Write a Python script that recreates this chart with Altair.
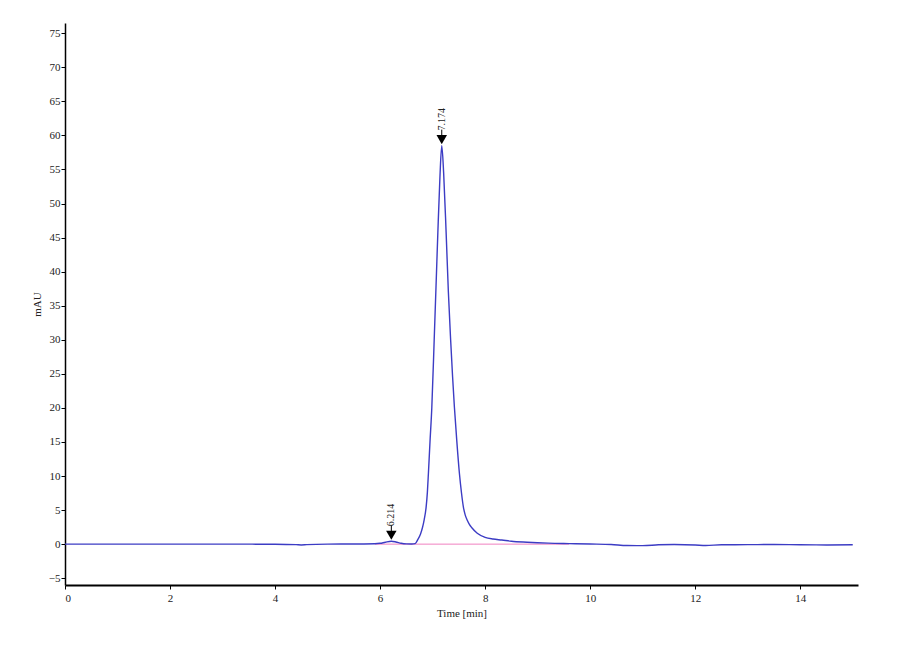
import altair as alt
import pandas as pd

# Chromatogram trace
time_min = [0, 1, 2, 3, 4, 4.4, 4.5, 4.6, 5, 5.5, 5.9, 6.0, 6.1, 6.214, 6.3, 6.4, 6.5, 6.6,
            6.667, 6.72, 6.77, 6.806, 6.84, 6.876, 6.90, 6.92, 6.95, 6.985, 7.03, 7.07, 7.10,
            7.14, 7.174, 7.21, 7.257, 7.30, 7.343, 7.38, 7.415, 7.46, 7.51, 7.55, 7.587, 7.62,
            7.66, 7.70, 7.747, 7.85, 8.0, 8.15, 8.318, 8.5, 8.8, 9.2, 9.6, 10.0, 10.4, 10.7,
            11.0, 11.3, 11.6, 12.0, 12.2, 12.5, 13, 13.5, 14, 14.5, 15.0]
mau = [0, 0, 0, 0, -0.02, -0.08, -0.12, -0.08, 0, 0.02, 0.05, 0.12, 0.28, 0.42, 0.32, 0.12,
       0.03, 0.02, 0.08, 0.7, 1.5, 2.4, 3.6, 5.4, 7.6, 10.4, 15.0, 20.1, 30, 39, 45.8, 54,
       58.5, 54.5, 45.8, 37, 30, 24.6, 20.1, 15.2, 10.4, 7.5, 5.4, 4.3, 3.5, 2.9, 2.4, 1.6,
       1.0, 0.75, 0.6, 0.42, 0.28, 0.15, 0.08, 0.02, -0.05, -0.2, -0.22, -0.1, -0.05, -0.12,
       -0.2, -0.1, -0.08, -0.05, -0.1, -0.12, -0.1]

# Peak annotations
peak_times = [6.214, 7.174]
peak_heights = [0.42, 58.5]
peak_labels = ["6.214", "7.174"]

# Integration baseline
baseline_t = [5.9, 9.6]
baseline_v = [0, 0]

x_ticks = [0, 2, 4, 6, 8, 10, 12, 14]
y_ticks = [-5, 0, 5, 10, 15, 20, 25, 30, 35, 40, 45, 50, 55, 60, 65, 70, 75]

trace = pd.DataFrame({"t": time_min, "v": mau})
peaks = pd.DataFrame({"t": peak_times, "v": peak_heights, "label": peak_labels})
base = pd.DataFrame({"t": baseline_t, "v": baseline_v})

FONT = "Liberation Serif"

xs = alt.Scale(domain=[0, 15.1], nice=False, zero=False)
ys = alt.Scale(domain=[-6, 76.5], nice=False, zero=False)

x_axis = alt.Axis(values=x_ticks, title="Time [min]", grid=False, domainColor="black",
                  domainWidth=2, tickColor="black", tickSize=4, labelFont=FONT,
                  labelFontSize=11, labelColor="#222", titleFont=FONT, titleFontSize=11,
                  titleFontWeight="normal", titleColor="#222", titlePadding=4, labelPadding=3,
                  labelOverlap=False)
y_axis = alt.Axis(values=y_ticks, title="mAU", grid=False, domainColor="black",
                  domainWidth=1.5, tickColor="black", tickSize=4, labelFont=FONT,
                  labelFontSize=11, labelColor="#222", titleFont=FONT, titleFontSize=11,
                  titleFontWeight="normal", titleColor="#222", titlePadding=6, labelPadding=1,
                  labelOverlap=False)

baseline_layer = alt.Chart(base).mark_line(color="#f080c0", strokeWidth=1).encode(
    x=alt.X("t:Q", scale=xs, axis=x_axis), y=alt.Y("v:Q", scale=ys, axis=y_axis))

line = alt.Chart(trace).mark_line(color="#3c3cc4", strokeWidth=1.4, interpolate="monotone").encode(
    x=alt.X("t:Q", scale=xs, axis=x_axis), y=alt.Y("v:Q", scale=ys, axis=y_axis))

stem = alt.Chart(peaks).mark_rule(color="black", strokeWidth=1, yOffset=-10, y2Offset=-16).encode(
    x=alt.X("t:Q", scale=xs, axis=x_axis), y=alt.Y("v:Q", scale=ys, axis=y_axis), y2="v:Q")

arrow = alt.Chart(peaks).mark_point(shape="triangle-down", filled=True, color="black",
                                    size=110, opacity=1, yOffset=-6).encode(
    x=alt.X("t:Q", scale=xs, axis=x_axis), y=alt.Y("v:Q", scale=ys, axis=y_axis))

labels = alt.Chart(peaks).mark_text(angle=270, align="left", baseline="middle", font=FONT,
                                    fontSize=10, color="#222", yOffset=-15).encode(
    x=alt.X("t:Q", scale=xs, axis=x_axis), y=alt.Y("v:Q", scale=ys, axis=y_axis),
    text="label:N")

chart = alt.layer(baseline_layer, line, stem, arrow, labels).properties(
    width=793, height=562,
    background="white",
    autosize=alt.AutoSizeParams(type="none"),
    padding={"left": 57, "top": 15, "right": 20, "bottom": 60},
).configure_view(strokeWidth=0).configure_axis(labelOverlap=False)

chart.save("out.html", embed_options={"renderer": "svg", "actions": False})
